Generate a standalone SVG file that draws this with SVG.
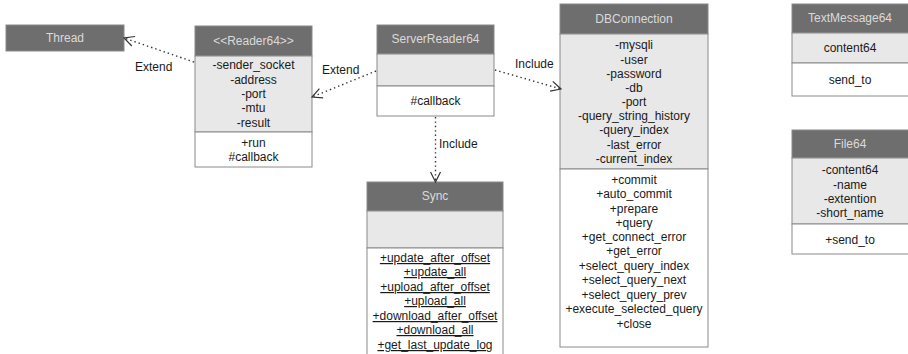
<svg xmlns="http://www.w3.org/2000/svg" width="908" height="354" viewBox="0 0 908 354">
  <style>
    .hd { fill: #6e6e6e; stroke: #8a8a8a; stroke-width: 1; }
    .at { fill: #e8e8e8; stroke: #8a8a8a; stroke-width: 1; }
    .mt { fill: #ffffff; stroke: #8a8a8a; stroke-width: 1; }
    .ttl { font-family: "Liberation Sans", Arial, sans-serif; font-size: 12px; fill: #dadada; text-anchor: middle; }
    .tx { font-family: "Liberation Sans", Arial, sans-serif; font-size: 12px; fill: #1a1a1a; text-anchor: middle; }
    .ul { text-decoration: underline; }
    .lbl { font-family: "Liberation Sans", Arial, sans-serif; font-size: 12px; fill: #1a1a1a; }
    .dep { fill: none; stroke: #333333; stroke-width: 1.4; stroke-dasharray: 1.4 3; marker-end: url(#open); }
  </style>
  <defs>
    <marker id="open" viewBox="0 0 12 12" refX="11" refY="6" markerWidth="12" markerHeight="12" markerUnits="userSpaceOnUse" orient="auto">
      <path d="M1,1 L11,6 L1,11" fill="none" stroke="#333333" stroke-width="1.2"/>
    </marker>
  </defs>

  <rect width="908" height="354" fill="#ffffff"/>

  <!-- Thread -->
  <g id="thread">
    <rect class="hd" x="6" y="25" width="118" height="26"/>
    <text class="ttl" x="65" y="42">Thread</text>
  </g>

  <!-- Reader64 -->
  <g id="reader64">
    <rect class="hd" x="195" y="26" width="117" height="30"/>
    <rect class="at" x="195" y="56" width="117" height="76"/>
    <rect class="mt" x="195" y="132" width="117" height="35"/>
    <text class="ttl" x="253.5" y="45">&lt;&lt;Reader64&gt;&gt;</text>
    <text class="tx" x="253.5" y="69">-sender_socket</text>
    <text class="tx" x="253.5" y="84">-address</text>
    <text class="tx" x="253.5" y="98">-port</text>
    <text class="tx" x="253.5" y="112">-mtu</text>
    <text class="tx" x="253.5" y="127">-result</text>
    <text class="tx" x="253.5" y="147">+run</text>
    <text class="tx" x="253.5" y="161">#callback</text>
  </g>

  <!-- ServerReader64 -->
  <g id="serverreader64">
    <rect class="hd" x="377" y="25" width="117" height="29"/>
    <rect class="at" x="377" y="54" width="117" height="32"/>
    <rect class="mt" x="377" y="86" width="117" height="30"/>
    <text class="ttl" x="435.5" y="43">ServerReader64</text>
    <text class="tx" x="435.5" y="105">#callback</text>
  </g>

  <!-- Sync -->
  <g id="sync">
    <rect class="hd" x="367" y="182" width="136" height="29"/>
    <rect class="at" x="367" y="211" width="136" height="37"/>
    <rect class="mt" x="367" y="248" width="136" height="110"/>
    <text class="ttl" x="435" y="200">Sync</text>
    <text class="tx ul" x="435" y="262">+update_after_offset</text>
    <text class="tx ul" x="435" y="276">+update_all</text>
    <text class="tx ul" x="435" y="291">+upload_after_offset</text>
    <text class="tx ul" x="435" y="305">+upload_all</text>
    <text class="tx ul" x="435" y="320">+download_after_offset</text>
    <text class="tx ul" x="435" y="334">+download_all</text>
    <text class="tx ul" x="435" y="349">+get_last_update_log</text>
  </g>

  <!-- DBConnection -->
  <g id="dbconnection">
    <rect class="hd" x="560" y="4" width="148" height="30"/>
    <rect class="at" x="560" y="34" width="148" height="135"/>
    <rect class="mt" x="560" y="169" width="148" height="178"/>
    <text class="ttl" x="634" y="23">DBConnection</text>
    <text class="tx" x="634" y="49">-mysqli</text>
    <text class="tx" x="634" y="64">-user</text>
    <text class="tx" x="634" y="78">-password</text>
    <text class="tx" x="634" y="92">-db</text>
    <text class="tx" x="634" y="106">-port</text>
    <text class="tx" x="634" y="120">-query_string_history</text>
    <text class="tx" x="634" y="134">-query_index</text>
    <text class="tx" x="634" y="149">-last_error</text>
    <text class="tx" x="634" y="163">-current_index</text>
    <text class="tx" x="634" y="184">+commit</text>
    <text class="tx" x="634" y="198">+auto_commit</text>
    <text class="tx" x="634" y="213">+prepare</text>
    <text class="tx" x="634" y="227">+query</text>
    <text class="tx" x="634" y="241">+get_connect_error</text>
    <text class="tx" x="634" y="255">+get_error</text>
    <text class="tx" x="634" y="270">+select_query_index</text>
    <text class="tx" x="634" y="284">+select_query_next</text>
    <text class="tx" x="634" y="299">+select_query_prev</text>
    <text class="tx" x="634" y="313">+execute_selected_query</text>
    <text class="tx" x="634" y="328">+close</text>
  </g>

  <!-- TextMessage64 -->
  <g id="textmessage64">
    <rect class="hd" x="792" y="4" width="120" height="29"/>
    <rect class="at" x="792" y="33" width="120" height="30"/>
    <rect class="mt" x="792" y="63" width="120" height="33"/>
    <text class="ttl" x="850" y="22">TextMessage64</text>
    <text class="tx" x="850" y="52">content64</text>
    <text class="tx" x="850" y="84">send_to</text>
  </g>

  <!-- File64 -->
  <g id="file64">
    <rect class="hd" x="792" y="130" width="120" height="28"/>
    <rect class="at" x="792" y="158" width="120" height="66"/>
    <rect class="mt" x="792" y="224" width="120" height="30"/>
    <text class="ttl" x="850" y="148">File64</text>
    <text class="tx" x="850" y="174">-content64</text>
    <text class="tx" x="850" y="189">-name</text>
    <text class="tx" x="850" y="203">-extention</text>
    <text class="tx" x="850" y="217">-short_name</text>
    <text class="tx" x="850" y="244">+send_to</text>
  </g>

  <!-- dependencies -->
  <g id="connectors">
    <path class="dep" d="M194,62 L124,38"/>
    <text class="lbl" x="135" y="71">Extend</text>
    <path class="dep" d="M376,71 L312,97"/>
    <text class="lbl" x="322" y="74">Extend</text>
    <path class="dep" d="M495,70 L561,89"/>
    <text class="lbl" x="515" y="68">Include</text>
    <path class="dep" d="M435.5,117 L435.5,182"/>
    <text class="lbl" x="439" y="148">Include</text>
  </g>
</svg>
